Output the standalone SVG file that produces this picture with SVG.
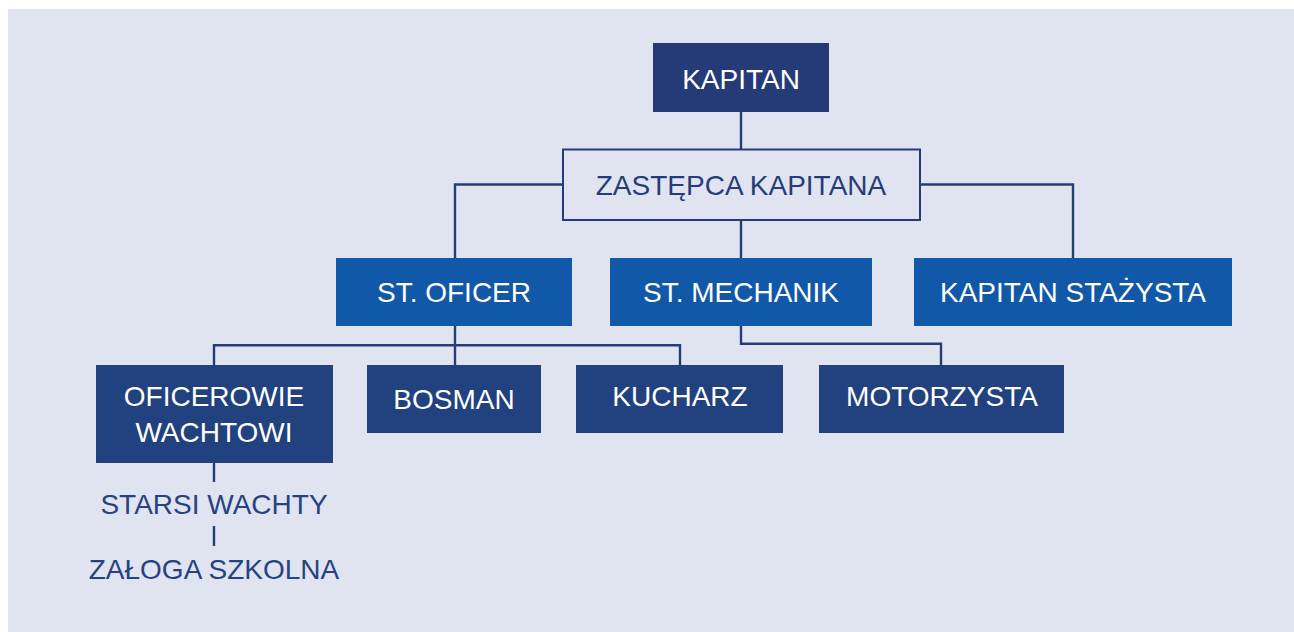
<svg xmlns="http://www.w3.org/2000/svg" width="1294" height="632" viewBox="0 0 1294 632">
<style>
.t{font-family:"Liberation Sans",Arial,sans-serif;font-size:28px;text-anchor:middle;fill:#ffffff}
.d{fill:#243B77}
.m{fill:#1158A8}
.l{fill:#21417F}
.lbl{font-family:"Liberation Sans",Arial,sans-serif;font-size:28px;text-anchor:middle;fill:#27427F}
.c{fill:none;stroke:#263C78;stroke-width:2.4}
</style>
<rect x="8" y="9" width="1286" height="623" fill="#E0E4F1"/>
<g id="connectors">
<path class="c" d="M741 112V149"/>
<path class="c" d="M563 184.5H455V258"/>
<path class="c" d="M920 184.5H1073V258"/>
<path class="c" d="M741 220V258"/>
<path class="c" d="M455 326V365"/>
<path class="c" d="M214 365V345.3H680V365"/>
<path class="c" d="M741 326V343.7H941V365"/>
<path class="c" d="M214 462V482"/>
<path class="c" d="M214 526V546"/>
</g>
<g id="kapitan"><rect class="d" x="653" y="43" width="176" height="69"/><text class="t" x="741" y="88.5">KAPITAN</text></g>
<g id="zastepca"><rect x="563" y="149.5" width="357" height="70.5" fill="#E0E4F1" stroke="#263C78" stroke-width="2"/><text class="t" x="741" y="195" style="fill:#263C78">ZASTĘPCA KAPITANA</text></g>
<g id="st-oficer"><rect class="m" x="336" y="258" width="236" height="68"/><text class="t" x="454" y="302">ST. OFICER</text></g>
<g id="st-mechanik"><rect class="m" x="610" y="258" width="262" height="68"/><text class="t" x="741" y="302">ST. MECHANIK</text></g>
<g id="kapitan-stazysta"><rect class="m" x="914" y="258" width="318" height="68"/><text class="t" x="1073" y="302">KAPITAN STAŻYSTA</text></g>
<g id="oficerowie"><rect class="l" x="96" y="365" width="237" height="98"/><text class="t" x="214" y="405.5">OFICEROWIE</text><text class="t" x="214" y="441.5">WACHTOWI</text></g>
<g id="bosman"><rect class="l" x="367" y="365" width="174" height="68"/><text class="t" x="454" y="408.5">BOSMAN</text></g>
<g id="kucharz"><rect class="l" x="576" y="365" width="207" height="68"/><text class="t" x="680" y="406">KUCHARZ</text></g>
<g id="motorzysta"><rect class="l" x="819" y="365" width="245" height="68"/><text class="t" x="942" y="406">MOTORZYSTA</text></g>
<g id="starsi-wachty"><text class="lbl" x="214" y="514">STARSI WACHTY</text></g>
<g id="zaloga-szkolna"><text class="lbl" x="214" y="579">ZAŁOGA SZKOLNA</text></g>
</svg>
